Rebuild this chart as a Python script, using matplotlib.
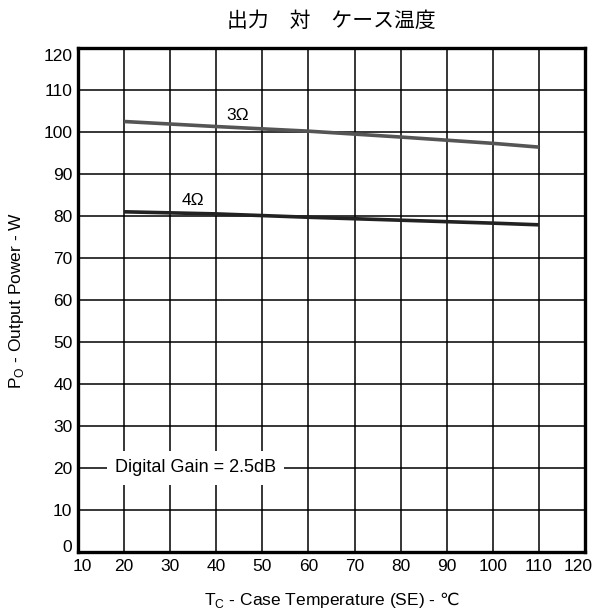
import matplotlib
matplotlib.use("Agg")
import matplotlib.pyplot as plt
from matplotlib.transforms import ScaledTranslation

temp = [20, 40, 60, 80, 100, 110]
p_3ohm = [102.5, 101.3, 100.2, 98.8, 97.3, 96.4]
p_4ohm = [81.0, 80.5, 79.7, 79.0, 78.3, 77.9]
xticks = list(range(10, 121, 10))
yticks = list(range(0, 121, 10))

plt.rcParams['font.family'] = ['Liberation Sans', 'DejaVu Sans', 'Noto Sans CJK JP']

W, H = 598, 615
fig = plt.figure(figsize=(W / 100, H / 100), dpi=100)
L, R, B, T = 78, 585, 552, 48
ax = fig.add_axes([L / W, 1 - B / H, (R - L) / W, (B - T) / H])

ax.set_xlim(10, 120)
ax.set_ylim(0, 120)
ax.set_xticks(xticks)
ax.set_yticks(yticks)
ax.tick_params(length=0, labelsize=12.5)
ax.tick_params(axis='x', pad=5)
ax.tick_params(axis='y', pad=4)
ax.grid(True, color='black', linewidth=1.1)
ax.set_axisbelow(True)
for s in ax.spines.values():
    s.set_linewidth(2.4)
    s.set_color('black')

ax.plot(temp, p_3ohm, color='#555555', linewidth=2.6, solid_capstyle='butt')
ax.plot(temp, p_4ohm, color='#222222', linewidth=2.6, solid_capstyle='butt')

ax.text(44.7, 104.0, '3Ω', fontsize=12.5, ha='center', va='center')
ax.text(34.9, 83.8, '4Ω', fontsize=12.5, ha='center', va='center')
ax.text(35.5, 20, 'Digital Gain = 2.5dB', fontsize=13, ha='center', va='center',
        bbox=dict(boxstyle='square,pad=0.45', facecolor='white', edgecolor='none'))

fig.text((L + R) / 2 / W, 1 - 21 / H, '出力　対　ケース温度', fontsize=15,
         ha='center', va='center', family=['Noto Sans CJK JP', 'DejaVu Sans'])

# shift end tick labels inward like the reference
fig.canvas.draw()
xt = ax.xaxis.get_major_ticks()
yt = ax.yaxis.get_major_ticks()
def shift(lbl, dx, dy):
    lbl.set_transform(lbl.get_transform() + ScaledTranslation(dx / 100, dy / 100, fig.dpi_scale_trans))
shift(xt[0].label1, 4, 0)
shift(xt[-1].label1, -7, 0)
shift(yt[0].label1, 0, 6)
shift(yt[-1].label1, 0, -7)

# y label
ax.set_ylabel('P$_\\mathregular{O}$ - Output Power - W', fontsize=12.5)
ax.yaxis.set_label_coords(-(L - 26) / (R - L), 0.5, transform=None)

# x label built from two pieces so ℃ can use a font that has it
renderer = fig.canvas.get_renderer()
yb = 1 - 605 / H
t1 = fig.text(0, yb, 'T$_\\mathregular{C}$ - Case Temperature (SE) -', fontsize=12.5,
              ha='left', va='baseline')
t2 = fig.text(0, yb, '℃', fontsize=12.5, ha='left', va='baseline',
              family=['DejaVu Sans'])
w1 = t1.get_window_extent(renderer).width
w2 = t2.get_window_extent(renderer).width
gap = 3
x0 = (L + R) / 2 - (w1 + gap + w2) / 2
t1.set_x(x0 / W)
t2.set_x((x0 + w1 + gap) / W)

fig.savefig('out.png', dpi=100)
